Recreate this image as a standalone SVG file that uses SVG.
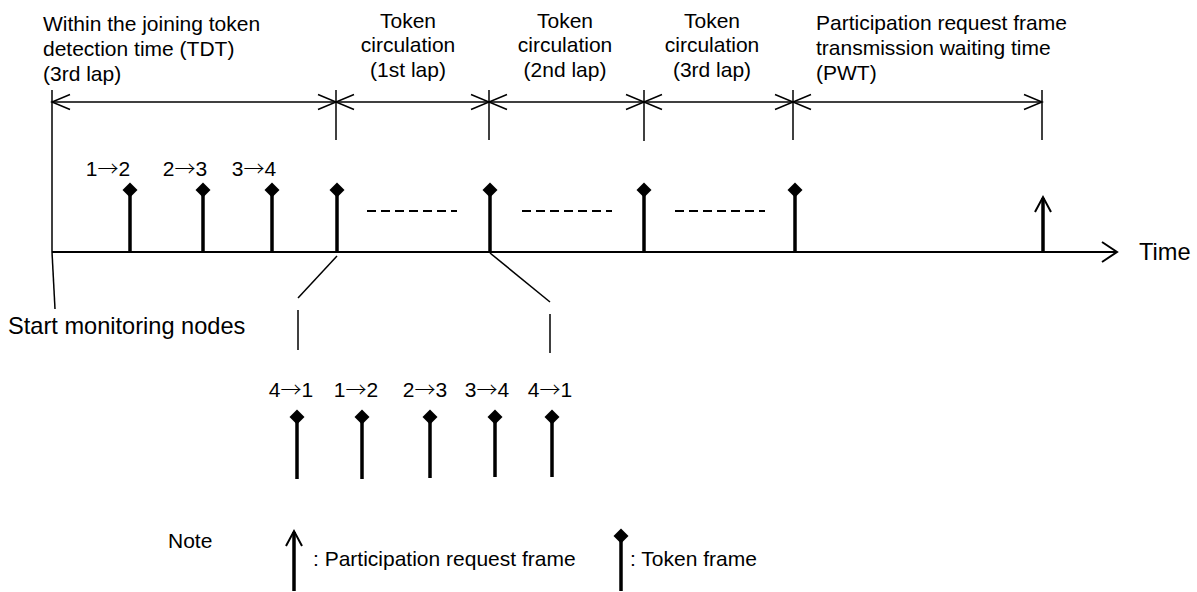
<svg xmlns="http://www.w3.org/2000/svg" width="1197" height="592" viewBox="0 0 1197 592">
  <style>
    text { font-family: "Liberation Sans", Arial, sans-serif; fill: #000; }
    .head { font-size: 21px; }
    .mid { text-anchor: middle; }
    .lbl { font-size: 21px; }
    .big { font-size: 23.6px; }
    .arr { font-family: "Noto Sans CJK JP", "Liberation Sans", sans-serif; font-weight: 300; }
    .thin { stroke: #000; stroke-width: 1.5; fill: none; }
    .axis { stroke: #000; stroke-width: 2; fill: none; }
    .stem { stroke: #000; stroke-width: 3.5; fill: none; }
    .dash { stroke: #000; stroke-width: 2; stroke-dasharray: 9 5; fill: none; }
    .dim { stroke: #000; stroke-width: 1.5; fill: none; marker-start: url(#openHead); marker-end: url(#openHead); }
  </style>
  <defs>
    <marker id="openHead" viewBox="-20 -10 22 20" refX="0" refY="0" markerWidth="22" markerHeight="20" markerUnits="userSpaceOnUse" orient="auto-start-reverse">
      <path d="M-18,-7.5 L0,0 L-18,7.5" fill="none" stroke="#000" stroke-width="1.5"/>
    </marker>
    <path id="diamond" d="M0,-7.5 L7.5,0 L0,7.5 L-7.5,0 Z" fill="#000"/>
  </defs>

  <!-- period headings -->
  <g id="heading-tdt">
    <text class="head" x="43" y="31">Within the joining token</text>
    <text class="head" x="43" y="56">detection time (TDT)</text>
    <text class="head" x="43" y="81">(3rd lap)</text>
  </g>
  <g id="heading-lap1">
    <text class="head mid" x="408" y="28">Token</text>
    <text class="head mid" x="408" y="52">circulation</text>
    <text class="head mid" x="408" y="77">(1st lap)</text>
  </g>
  <g id="heading-lap2">
    <text class="head mid" x="565" y="28">Token</text>
    <text class="head mid" x="565" y="52">circulation</text>
    <text class="head mid" x="565" y="77">(2nd lap)</text>
  </g>
  <g id="heading-lap3">
    <text class="head mid" x="712" y="28">Token</text>
    <text class="head mid" x="712" y="52">circulation</text>
    <text class="head mid" x="712" y="77">(3rd lap)</text>
  </g>
  <g id="heading-pwt">
    <text class="head" x="816" y="30">Participation request frame</text>
    <text class="head" x="816" y="55">transmission waiting time</text>
    <text class="head" x="816" y="80">(PWT)</text>
  </g>

  <!-- boundary ticks of the periods -->
  <g id="ticks">
    <line class="thin" x1="52" y1="90" x2="52" y2="252"/>
    <line class="thin" x1="336" y1="90" x2="336" y2="140"/>
    <line class="thin" x1="489" y1="90" x2="489" y2="140"/>
    <line class="thin" x1="644" y1="90" x2="644" y2="141"/>
    <line class="thin" x1="793" y1="90" x2="793" y2="140"/>
    <line class="thin" x1="1042" y1="90" x2="1042" y2="140"/>
  </g>

  <!-- time axis -->
  <g id="time-axis">
    <line class="axis" x1="52" y1="252" x2="1117" y2="252"/>
    <path class="axis" d="M1102,242 L1117,252 L1102,262"/>
    <text class="big" x="1139" y="260">Time</text>
  </g>

  <!-- token frames on the axis -->
  <g id="tokens-axis">
    <line class="stem" x1="130" y1="192" x2="130" y2="252"/>
    <use href="#diamond" x="130" y="190"/>
    <line class="stem" x1="203" y1="192" x2="203" y2="252"/>
    <use href="#diamond" x="203" y="190"/>
    <line class="stem" x1="272" y1="192" x2="272" y2="252"/>
    <use href="#diamond" x="272" y="190"/>
    <line class="stem" x1="337" y1="192" x2="337" y2="252"/>
    <use href="#diamond" x="337" y="190"/>
    <line class="stem" x1="490" y1="192" x2="490" y2="252"/>
    <use href="#diamond" x="490" y="190"/>
    <line class="stem" x1="644" y1="192" x2="644" y2="252"/>
    <use href="#diamond" x="644" y="190"/>
    <line class="stem" x1="795" y1="192" x2="795" y2="252"/>
    <use href="#diamond" x="795" y="190"/>
    <text class="lbl mid" x="108" y="176">1<tspan class="arr">→</tspan>2</text>
    <text class="lbl mid" x="185" y="176">2<tspan class="arr">→</tspan>3</text>
    <text class="lbl mid" x="254" y="176">3<tspan class="arr">→</tspan>4</text>
  </g>

  <!-- participation request frame on the axis -->
  <g id="request-axis">
    <line class="stem" x1="1043" y1="198" x2="1043" y2="252"/>
    <path class="axis" d="M1035,212 L1043,197 L1051,212" stroke-width="2.5"/>
  </g>

  <!-- token omission dashes -->
  <g id="gaps">
    <line class="dash" x1="367" y1="211" x2="457" y2="211"/>
    <line class="dash" x1="522" y1="211" x2="612" y2="211"/>
    <line class="dash" x1="675" y1="211" x2="765" y2="211"/>
  </g>

  <!-- start marker label -->
  <g id="start-label">
    <text class="big" x="8" y="334">Start monitoring nodes</text>
  </g>

  <!-- expanded view of one lap -->
  <g id="tokens-detail">
    <line class="stem" x1="297" y1="419" x2="297" y2="479"/>
    <use href="#diamond" x="297" y="417"/>
    <line class="stem" x1="362" y1="419" x2="362" y2="479"/>
    <use href="#diamond" x="362" y="417"/>
    <line class="stem" x1="430" y1="419" x2="430" y2="478"/>
    <use href="#diamond" x="430" y="417"/>
    <line class="stem" x1="495" y1="419" x2="495" y2="477"/>
    <use href="#diamond" x="495" y="417"/>
    <line class="stem" x1="552" y1="419" x2="552" y2="477"/>
    <use href="#diamond" x="552" y="417"/>
    <text class="lbl mid" x="291" y="397">4<tspan class="arr">→</tspan>1</text>
    <text class="lbl mid" x="356" y="397">1<tspan class="arr">→</tspan>2</text>
    <text class="lbl mid" x="425" y="397">2<tspan class="arr">→</tspan>3</text>
    <text class="lbl mid" x="487" y="397">3<tspan class="arr">→</tspan>4</text>
    <text class="lbl mid" x="550" y="397">4<tspan class="arr">→</tspan>1</text>
  </g>

  <!-- legend -->
  <g id="legend">
    <text class="lbl" x="168" y="548">Note</text>
    <line class="stem" x1="294" y1="532" x2="294" y2="591"/>
    <path class="axis" d="M286,546 L294,531 L302,546" stroke-width="2.5"/>
    <text class="lbl" x="313" y="566">: Participation request frame</text>
    <line class="stem" x1="621" y1="538" x2="621" y2="591"/>
    <use href="#diamond" x="621" y="536"/>
    <text class="lbl" x="630" y="566">: Token frame</text>
  </g>

  <!-- connectors: period spans and leader lines -->
  <g id="connectors">
    <line class="dim" x1="52" y1="102" x2="336" y2="102"/>
    <line class="dim" x1="336" y1="102" x2="489" y2="102"/>
    <line class="dim" x1="489" y1="102" x2="644" y2="102"/>
    <line class="dim" x1="644" y1="102" x2="793" y2="102"/>
    <line class="dim" x1="793" y1="102" x2="1042" y2="102"/>
    <line class="thin" x1="52" y1="252" x2="55" y2="309"/>
    <line class="thin" x1="337" y1="256" x2="298" y2="298"/>
    <line class="thin" x1="298" y1="310" x2="298" y2="350"/>
    <line class="thin" x1="490" y1="253" x2="550" y2="302"/>
    <line class="thin" x1="550" y1="314" x2="550" y2="353"/>
  </g>
</svg>
